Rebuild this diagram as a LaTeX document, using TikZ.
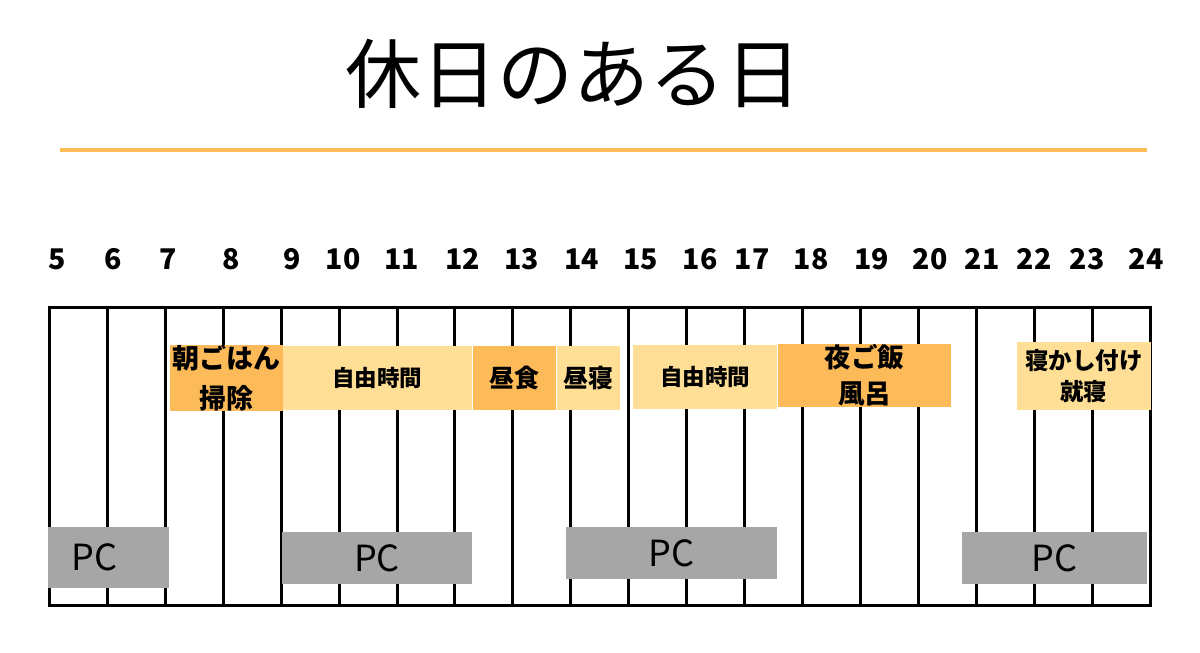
\documentclass[tikz,border=0pt]{standalone}
\usepackage{fontspec}
\setmainfont{Noto Sans CJK JP}
\definecolor{mealorange}{HTML}{FDBA59}
\definecolor{freeyellow}{HTML}{FFDE96}
\definecolor{pcgray}{HTML}{A6A6A6}
\definecolor{ruleorange}{HTML}{FCBC58}
\begin{document}
\begin{tikzpicture}[x=1pt, y=-1pt,
  hour/.style={inner sep=0pt, anchor=base, font=\fontsize{28.5}{30}\selectfont\bfseries},
  act/.style 2 args={inner sep=0pt, align=center, font=\fontsize{#1}{#2}\selectfont\bfseries},
  pc/.style={fill=pcgray, inner sep=0pt, font=\fontsize{36}{40}\selectfont},
  gridline/.style={line width=3pt}]
  \useasboundingbox (0,0) rectangle (1200,653);
  \node[inner sep=0pt, font=\fontsize{76}{80}\selectfont] (title) at (573,74) {休日のある日};
  \draw[ruleorange, line width=3.5pt] (60,150) -- (1147,150);
  \foreach \h/\x in {5/57.3, 6/113, 7/167.7, 8/230.7, 9/292.3, 10/343.3, 11/401.7, 12/462.7, 13/521.7, 14/581.7,
                     15/640.7, 16/700, 17/752.3, 18/811, 19/871.7, 20/930, 21/982.3, 22/1034.3, 23/1087.3, 24/1146}
    \node[hour] (h\h) at (\x,269) {\h};
  \foreach \i in {1,...,18}
    \draw[gridline] ({49.5+57.92*\i},307) -- ({49.5+57.92*\i},605);
  \draw[gridline] (49.5,307) rectangle (1150,605);
  \node[act={27}{40}, fill=mealorange, minimum width=112.7pt, minimum height=64pt] (breakfast) at (226.3,378) {朝ごはん\\掃除};
  \node[act={22.5}{26}, fill=freeyellow, minimum width=189.3pt, minimum height=64pt] (free1) at (377.3,378) {自由時間};
  \node[act={25}{28}, fill=mealorange, minimum width=82.7pt, minimum height=64pt] (lunch) at (514.7,378) {昼食};
  \node[act={25}{28}, fill=freeyellow, minimum width=63.3pt, minimum height=64pt] (nap) at (588.3,378) {昼寝};
  \node[act={22.5}{26}, fill=freeyellow, minimum width=144.6pt, minimum height=64pt] (free2) at (705,377) {自由時間};
  \node[act={26.5}{36}, fill=mealorange, minimum width=172.4pt, minimum height=63pt] (dinner) at (864.5,375.5) {夜ご飯\\風呂};
  \node[act={23.5}{31}, fill=freeyellow, minimum width=134.3pt, minimum height=68pt] (bedtime) at (1083.8,376) {寝かし付け\\就寝};
  \node[pc, text width=74pt, inner xsep=23.5pt, align=left, minimum height=61pt] (pc1) at (108.5,557.5) {PC};
  \node[pc, minimum width=190pt, minimum height=52pt] (pc2) at (377,558) {PC};
  \node[pc, minimum width=211pt, minimum height=52pt] (pc3) at (671.5,553) {PC};
  \node[pc, minimum width=185pt, minimum height=52pt] (pc4) at (1054.5,558) {PC};
\end{tikzpicture}
\end{document}
